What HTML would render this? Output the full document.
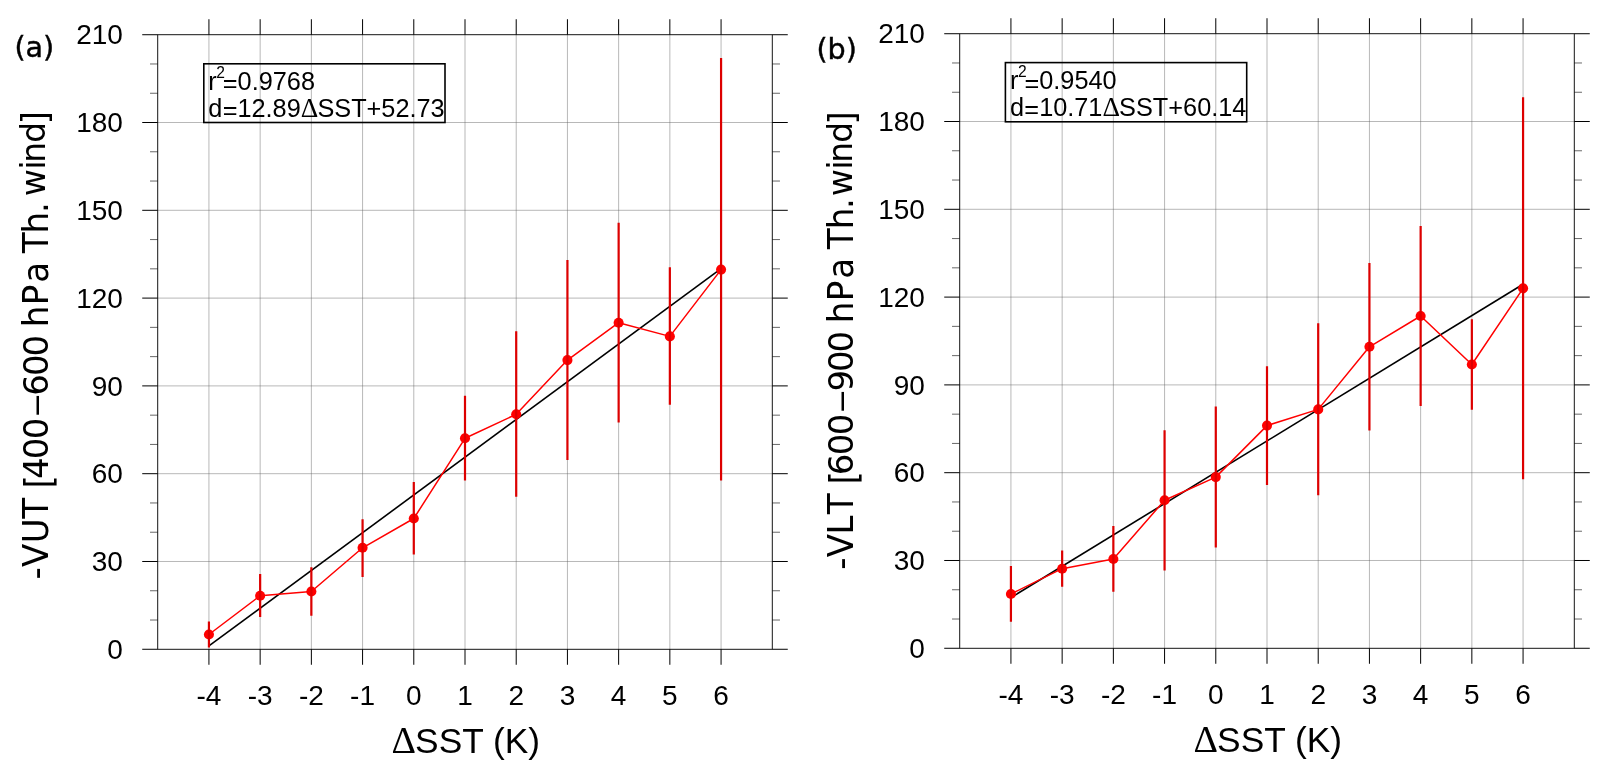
<!DOCTYPE html>
<html lang="en"><head><meta charset="utf-8"><title>Thermal wind vs SST</title>
<style>
html,body{margin:0;padding:0;background:#fff;}
body{width:1609px;height:779px;overflow:hidden;}
svg{display:block;}
svg{will-change:transform;}
.ax{stroke:#000;stroke-width:1.0;fill:none;stroke-linecap:butt;}
.mn{stroke:#000;stroke-width:0.6;fill:none;}
.gr{stroke:#606060;stroke-width:0.45;fill:none;}
.tl{font-family:'Liberation Sans', Arial, Helvetica, sans-serif;font-size:28px;fill:#000;}
.lg{font-family:'Liberation Sans', Arial, Helvetica, sans-serif;font-size:25.3px;fill:#000;}
.xl{font-family:'Liberation Sans', Arial, Helvetica, sans-serif;font-size:35.3px;fill:#000;}
.yl{font-family:'DejaVu Sans', Verdana, sans-serif;fill:#000;}
.pl{font-family:'DejaVu Sans', Verdana, sans-serif;font-size:28.6px;fill:#000;stroke:#000;stroke-width:0.45px;}
.dl{font-family:'Liberation Serif', 'Times New Roman', serif;}
.eb{stroke:#dd0000;stroke-width:2.2;fill:none;}
.rl{stroke:#ff0000;stroke-width:1.5;fill:none;stroke-linejoin:round;}
.bl{stroke:#000;stroke-width:1.6;fill:none;}
.mk{fill:#ff0000;}
</style></head><body>
<svg width="1609" height="779" viewBox="0 0 1609 779">
<g id="panel-a">
<path class="gr" d="M208.93 34.72V649.28M260.15 34.72V649.28M311.36 34.72V649.28M362.57 34.72V649.28M413.79 34.72V649.28M465 34.72V649.28M516.21 34.72V649.28M567.43 34.72V649.28M618.64 34.72V649.28M669.85 34.72V649.28M721.07 34.72V649.28M157.72 561.49H772.28M157.72 473.69H772.28M157.72 385.9H772.28M157.72 298.1H772.28M157.72 210.31H772.28M157.72 122.51H772.28"/>
<rect x="203.8" y="63.8" width="241.2" height="58.7" fill="none" stroke="#000" stroke-width="1.6"/>
<path class="bl" d="M208.93 645.86L721.07 268.63"/>
<path class="rl" d="M208.93 634.5L260.15 595.7L311.36 591.5L362.57 547.8L413.79 518.5L465 438.3L516.21 414.3L567.43 360.1L618.64 322.7L669.85 336.4L721.07 269.6"/>
<circle class="mk" cx="208.93" cy="634.5" r="5.05"/>
<circle class="mk" cx="260.15" cy="595.7" r="5.05"/>
<circle class="mk" cx="311.36" cy="591.5" r="5.05"/>
<circle class="mk" cx="362.57" cy="547.8" r="5.05"/>
<circle class="mk" cx="413.79" cy="518.5" r="5.05"/>
<circle class="mk" cx="465" cy="438.3" r="5.05"/>
<circle class="mk" cx="516.21" cy="414.3" r="5.05"/>
<circle class="mk" cx="567.43" cy="360.1" r="5.05"/>
<circle class="mk" cx="618.64" cy="322.7" r="5.05"/>
<circle class="mk" cx="669.85" cy="336.4" r="5.05"/>
<circle class="mk" cx="721.07" cy="269.6" r="5.05"/>
<path class="eb" d="M208.93 621.4V647.4M260.15 574V617.1M311.36 567.2V615.8M362.57 519.3V576.9M413.79 482.1V554.6M465 395.7V480.6M516.21 331.2V496.8M567.43 259.9V460.1M618.64 222.7V422.4M669.85 267.2V404.8M721.07 58.1V480.6"/>
<path class="mn" d="M150.02 620.02H157.72M772.28 620.02H779.98M150.02 590.75H157.72M772.28 590.75H779.98M150.02 532.22H157.72M772.28 532.22H779.98M150.02 502.96H157.72M772.28 502.96H779.98M150.02 444.43H157.72M772.28 444.43H779.98M150.02 415.16H157.72M772.28 415.16H779.98M150.02 356.63H157.72M772.28 356.63H779.98M150.02 327.37H157.72M772.28 327.37H779.98M150.02 268.84H157.72M772.28 268.84H779.98M150.02 239.57H157.72M772.28 239.57H779.98M150.02 181.04H157.72M772.28 181.04H779.98M150.02 151.78H157.72M772.28 151.78H779.98M150.02 93.25H157.72M772.28 93.25H779.98M150.02 63.98H157.72M772.28 63.98H779.98"/>
<path class="ax" d="M142.22 649.28H157.72M772.28 649.28H787.78M142.22 561.49H157.72M772.28 561.49H787.78M142.22 473.69H157.72M772.28 473.69H787.78M142.22 385.9H157.72M772.28 385.9H787.78M142.22 298.1H157.72M772.28 298.1H787.78M142.22 210.31H157.72M772.28 210.31H787.78M142.22 122.51H157.72M772.28 122.51H787.78M142.22 34.72H157.72M772.28 34.72H787.78M208.93 19.22V34.72M208.93 649.28V664.78M260.15 19.22V34.72M260.15 649.28V664.78M311.36 19.22V34.72M311.36 649.28V664.78M362.57 19.22V34.72M362.57 649.28V664.78M413.79 19.22V34.72M413.79 649.28V664.78M465 19.22V34.72M465 649.28V664.78M516.21 19.22V34.72M516.21 649.28V664.78M567.43 19.22V34.72M567.43 649.28V664.78M618.64 19.22V34.72M618.64 649.28V664.78M669.85 19.22V34.72M669.85 649.28V664.78M721.07 19.22V34.72M721.07 649.28V664.78"/>
<rect class="ax" style="stroke-width:0.92" x="157.72" y="34.72" width="614.56" height="614.56"/>
<text class="tl" x="122.9" y="658.98" text-anchor="end">0</text>
<text class="tl" x="122.9" y="571.19" text-anchor="end">30</text>
<text class="tl" x="122.9" y="483.39" text-anchor="end">60</text>
<text class="tl" x="122.9" y="395.6" text-anchor="end">90</text>
<text class="tl" x="122.9" y="307.8" text-anchor="end">120</text>
<text class="tl" x="122.9" y="220.01" text-anchor="end">150</text>
<text class="tl" x="122.9" y="132.21" text-anchor="end">180</text>
<text class="tl" x="122.9" y="44.42" text-anchor="end">210</text>
<text class="tl" x="208.93" y="704.98" text-anchor="middle">-4</text>
<text class="tl" x="260.15" y="704.98" text-anchor="middle">-3</text>
<text class="tl" x="311.36" y="704.98" text-anchor="middle">-2</text>
<text class="tl" x="362.57" y="704.98" text-anchor="middle">-1</text>
<text class="tl" x="413.79" y="704.98" text-anchor="middle">0</text>
<text class="tl" x="465" y="704.98" text-anchor="middle">1</text>
<text class="tl" x="516.21" y="704.98" text-anchor="middle">2</text>
<text class="tl" x="567.43" y="704.98" text-anchor="middle">3</text>
<text class="tl" x="618.64" y="704.98" text-anchor="middle">4</text>
<text class="tl" x="669.85" y="704.98" text-anchor="middle">5</text>
<text class="tl" x="721.07" y="704.98" text-anchor="middle">6</text>
<text class="lg" x="208.3" y="89.7">r</text>
<text class="lg" x="216.2" y="78" style="font-size:15.6px">2</text>
<text class="lg" x="222.8" y="92.4">=</text>
<text class="lg" x="237.58" y="89.7">0.9768</text>
<text class="lg" x="208.3" y="116.6">d</text>
<text class="lg" x="222.67" y="119.3">=</text>
<text class="lg" x="237.44" y="116.6">12.89</text>
<text class="lg dl" x="300.7" y="116.6" style="font-size:27.3px">Δ</text>
<text class="lg" x="317.4" y="116.6">SST+52.73</text>
<text class="pl" x="14.4" y="56.7">(a)</text>
<text class="xl dl" x="391.5" y="753" style="font-size:38.1px">Δ</text>
<text class="xl" x="415.1" y="753">SST (K)</text>
<text class="yl" style="font-size:35px" transform="translate(48 700) rotate(-90) scale(0.9750 1)" x="123.63 136.5 160.73 185.93" y="0">-VUT</text>
<text class="yl" style="font-size:37.8px" transform="translate(50.7 700) rotate(-90) scale(0.8700 1)" x="243.41" y="0">[</text>
<text class="yl" style="font-size:34px" transform="translate(48 700) rotate(-90) scale(1.0000 1)" x="220.96 240.69 260.69" y="0">400</text>
<text class="yl" style="font-size:35px" transform="translate(48 700) rotate(-90) scale(1.3350 1)" x="211.92" y="0">–</text>
<text class="yl" style="font-size:34px" transform="translate(48 700) rotate(-90) scale(1.0000 1)" x="304.37 323.99 343.59" y="0">600</text>
<text class="yl" style="font-size:35px" transform="translate(48 700) rotate(-90) scale(0.9750 1)" x="382.4 404.99 427.87" y="0">hPa</text>
<text class="yl" style="font-size:35px" transform="translate(48 700) rotate(-90) scale(0.9750 1)" x="458.18 478.6 499.38" y="0">Th.</text>
<text class="yl" style="font-size:32.8px" transform="translate(45.4 700) rotate(-90) scale(1.0000 1)" x="503.99 530.64 537.21 557.27" y="0">wind</text>
<text class="yl" style="font-size:35.6px" transform="translate(47.4 700) rotate(-90) scale(0.9400 1)" x="612.38" y="0">]</text>
</g>
<g id="panel-b">
<path class="gr" d="M1010.93 33.72V648.28M1062.15 33.72V648.28M1113.36 33.72V648.28M1164.57 33.72V648.28M1215.79 33.72V648.28M1267 33.72V648.28M1318.21 33.72V648.28M1369.43 33.72V648.28M1420.64 33.72V648.28M1471.85 33.72V648.28M1523.07 33.72V648.28M959.72 560.49H1574.28M959.72 472.69H1574.28M959.72 384.9H1574.28M959.72 297.1H1574.28M959.72 209.31H1574.28M959.72 121.51H1574.28"/>
<rect x="1005.4" y="62.6" width="241.3" height="59.2" fill="none" stroke="#000" stroke-width="1.6"/>
<path class="bl" d="M1010.93 597.65L1523.07 284.23"/>
<path class="rl" d="M1010.93 594L1062.15 568.7L1113.36 559L1164.57 500.2L1215.79 477.1L1267 425.6L1318.21 409.4L1369.43 346.8L1420.64 316L1471.85 364.5L1523.07 288.3"/>
<circle class="mk" cx="1010.93" cy="594" r="5.05"/>
<circle class="mk" cx="1062.15" cy="568.7" r="5.05"/>
<circle class="mk" cx="1113.36" cy="559" r="5.05"/>
<circle class="mk" cx="1164.57" cy="500.2" r="5.05"/>
<circle class="mk" cx="1215.79" cy="477.1" r="5.05"/>
<circle class="mk" cx="1267" cy="425.6" r="5.05"/>
<circle class="mk" cx="1318.21" cy="409.4" r="5.05"/>
<circle class="mk" cx="1369.43" cy="346.8" r="5.05"/>
<circle class="mk" cx="1420.64" cy="316" r="5.05"/>
<circle class="mk" cx="1471.85" cy="364.5" r="5.05"/>
<circle class="mk" cx="1523.07" cy="288.3" r="5.05"/>
<path class="eb" d="M1010.93 566V621.7M1062.15 550.4V586.8M1113.36 526.1V591.7M1164.57 430.2V570.6M1215.79 406.4V547.6M1267 366.3V484.9M1318.21 323.3V495.2M1369.43 263V430.6M1420.64 226V406M1471.85 319.3V409.8M1523.07 97.2V479.2"/>
<path class="mn" d="M952.02 619.02H959.72M1574.28 619.02H1581.98M952.02 589.75H959.72M1574.28 589.75H1581.98M952.02 531.22H959.72M1574.28 531.22H1581.98M952.02 501.96H959.72M1574.28 501.96H1581.98M952.02 443.43H959.72M1574.28 443.43H1581.98M952.02 414.16H959.72M1574.28 414.16H1581.98M952.02 355.63H959.72M1574.28 355.63H1581.98M952.02 326.37H959.72M1574.28 326.37H1581.98M952.02 267.84H959.72M1574.28 267.84H1581.98M952.02 238.57H959.72M1574.28 238.57H1581.98M952.02 180.04H959.72M1574.28 180.04H1581.98M952.02 150.78H959.72M1574.28 150.78H1581.98M952.02 92.25H959.72M1574.28 92.25H1581.98M952.02 62.98H959.72M1574.28 62.98H1581.98"/>
<path class="ax" d="M944.22 648.28H959.72M1574.28 648.28H1589.78M944.22 560.49H959.72M1574.28 560.49H1589.78M944.22 472.69H959.72M1574.28 472.69H1589.78M944.22 384.9H959.72M1574.28 384.9H1589.78M944.22 297.1H959.72M1574.28 297.1H1589.78M944.22 209.31H959.72M1574.28 209.31H1589.78M944.22 121.51H959.72M1574.28 121.51H1589.78M944.22 33.72H959.72M1574.28 33.72H1589.78M1010.93 18.22V33.72M1010.93 648.28V663.78M1062.15 18.22V33.72M1062.15 648.28V663.78M1113.36 18.22V33.72M1113.36 648.28V663.78M1164.57 18.22V33.72M1164.57 648.28V663.78M1215.79 18.22V33.72M1215.79 648.28V663.78M1267 18.22V33.72M1267 648.28V663.78M1318.21 18.22V33.72M1318.21 648.28V663.78M1369.43 18.22V33.72M1369.43 648.28V663.78M1420.64 18.22V33.72M1420.64 648.28V663.78M1471.85 18.22V33.72M1471.85 648.28V663.78M1523.07 18.22V33.72M1523.07 648.28V663.78"/>
<rect class="ax" style="stroke-width:0.92" x="959.72" y="33.72" width="614.56" height="614.56"/>
<text class="tl" x="924.9" y="657.98" text-anchor="end">0</text>
<text class="tl" x="924.9" y="570.19" text-anchor="end">30</text>
<text class="tl" x="924.9" y="482.39" text-anchor="end">60</text>
<text class="tl" x="924.9" y="394.6" text-anchor="end">90</text>
<text class="tl" x="924.9" y="306.8" text-anchor="end">120</text>
<text class="tl" x="924.9" y="219.01" text-anchor="end">150</text>
<text class="tl" x="924.9" y="131.21" text-anchor="end">180</text>
<text class="tl" x="924.9" y="43.42" text-anchor="end">210</text>
<text class="tl" x="1010.93" y="703.98" text-anchor="middle">-4</text>
<text class="tl" x="1062.15" y="703.98" text-anchor="middle">-3</text>
<text class="tl" x="1113.36" y="703.98" text-anchor="middle">-2</text>
<text class="tl" x="1164.57" y="703.98" text-anchor="middle">-1</text>
<text class="tl" x="1215.79" y="703.98" text-anchor="middle">0</text>
<text class="tl" x="1267" y="703.98" text-anchor="middle">1</text>
<text class="tl" x="1318.21" y="703.98" text-anchor="middle">2</text>
<text class="tl" x="1369.43" y="703.98" text-anchor="middle">3</text>
<text class="tl" x="1420.64" y="703.98" text-anchor="middle">4</text>
<text class="tl" x="1471.85" y="703.98" text-anchor="middle">5</text>
<text class="tl" x="1523.07" y="703.98" text-anchor="middle">6</text>
<text class="lg" x="1010" y="88.8">r</text>
<text class="lg" x="1017.9" y="77.1" style="font-size:15.6px">2</text>
<text class="lg" x="1024.5" y="91.5">=</text>
<text class="lg" x="1039.28" y="88.8">0.9540</text>
<text class="lg" x="1010" y="115.7">d</text>
<text class="lg" x="1024.37" y="118.4">=</text>
<text class="lg" x="1039.14" y="115.7">10.71</text>
<text class="lg dl" x="1102.4" y="115.7" style="font-size:27.3px">Δ</text>
<text class="lg" x="1119.1" y="115.7">SST+60.14</text>
<text class="pl" x="816.4" y="58.6">(b)</text>
<text class="xl dl" x="1193.5" y="752" style="font-size:38.1px">Δ</text>
<text class="xl" x="1217.1" y="752">SST (K)</text>
<text class="yl" style="font-size:35px" transform="translate(853 700) rotate(-90) scale(0.9750 1)" x="133.48 146.4 169.81 190.44" y="0">-VLT</text>
<text class="yl" style="font-size:37.8px" transform="translate(855.7 700) rotate(-90) scale(0.8700 1)" x="248.01" y="0">[</text>
<text class="yl" style="font-size:34px" transform="translate(853 700) rotate(-90) scale(1.0000 1)" x="224.72 244.69 264.69" y="0">600</text>
<text class="yl" style="font-size:35px" transform="translate(853 700) rotate(-90) scale(1.3350 1)" x="214.92" y="0">–</text>
<text class="yl" style="font-size:34px" transform="translate(853 700) rotate(-90) scale(1.0000 1)" x="308.61 327.99 347.59" y="0">900</text>
<text class="yl" style="font-size:35px" transform="translate(853 700) rotate(-90) scale(0.9750 1)" x="386.5 409.1 431.97" y="0">hPa</text>
<text class="yl" style="font-size:35px" transform="translate(853 700) rotate(-90) scale(0.9750 1)" x="462.28 482.81 503.48" y="0">Th.</text>
<text class="yl" style="font-size:32.8px" transform="translate(852.3 700) rotate(-90) scale(1.0000 1)" x="503.99 530.64 537.21 557.27" y="0">wind</text>
<text class="yl" style="font-size:35.6px" transform="translate(854.3 700) rotate(-90) scale(0.9400 1)" x="612.16" y="0">]</text>
</g>
</svg>
</body></html>
